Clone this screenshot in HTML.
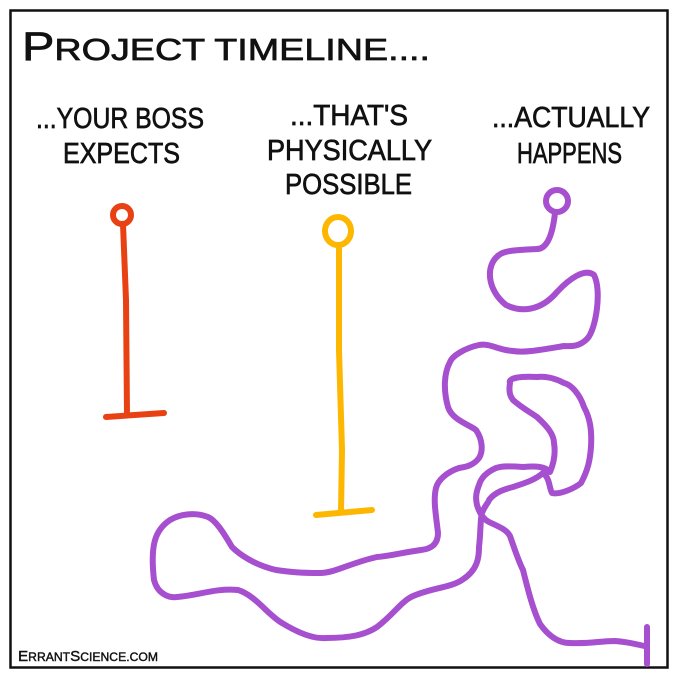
<!DOCTYPE html>
<html><head><meta charset="utf-8"><style>
html,body{margin:0;padding:0;background:#fff}
svg{display:block}
text{font-family:"Liberation Sans Narrow","Liberation Sans",sans-serif;fill:#111;stroke:#111;stroke-width:0.7}
</style></head><body>
<svg width="680" height="680" viewBox="0 0 680 680">
<rect x="10.5" y="10.5" width="657" height="657" fill="#fff" stroke="#111" stroke-width="2.5"/>
<text x="22" y="60" font-size="40" textLength="408" lengthAdjust="spacingAndGlyphs">P<tspan font-size="31">ROJECT  TIMELINE....</tspan></text>
<g font-size="29">
<text x="36" y="128" textLength="168" lengthAdjust="spacingAndGlyphs">...YOUR  BOSS</text>
<text x="63" y="163" textLength="117" lengthAdjust="spacingAndGlyphs">EXPECTS</text>
<text x="290" y="125" textLength="118" lengthAdjust="spacingAndGlyphs">...THAT'S</text>
<text x="267" y="160" textLength="165" lengthAdjust="spacingAndGlyphs">PHYSICALLY</text>
<text x="285" y="194" textLength="127" lengthAdjust="spacingAndGlyphs">POSSIBLE</text>
<text x="492" y="127" textLength="158" lengthAdjust="spacingAndGlyphs">...ACTUALLY</text>
<text x="517" y="163" textLength="105" lengthAdjust="spacingAndGlyphs">HAPPENS</text>
</g>
<text x="18" y="661" font-size="15" style="stroke-width:0.4" textLength="140" lengthAdjust="spacingAndGlyphs">E<tspan font-size="12">RRANT</tspan>S<tspan font-size="12">CIENCE.COM</tspan></text>
<g fill="none" stroke-linecap="round" stroke-linejoin="round">
<g stroke="#e84214" stroke-width="6">
<circle cx="122" cy="215" r="9"/>
<path d="M123 224 L126 300 L127 415"/>
<path d="M106 417 L164 413"/>
</g>
<g stroke="#fdb700" stroke-width="6">
<ellipse cx="338" cy="231" rx="13" ry="14"/>
<path d="M339 245 L339 350 L342 450 L341 512"/>
<path d="M316 515 L372 510"/>
</g>
<g stroke="#a64fcf" stroke-width="6">
<circle cx="557" cy="201" r="11"/>
<path d="M555 213 C552 240 545 249 537 249 C520 250 505 250 499 255 C485 265 487 290 506 305 C520 312 540 312 557 292 C570 278 585 268 594 275 C602 290 596 330 587 339 C578 348 568 346 564 346 C540 350 525 353 513 351 C498 350 490 343 479 345 C465 348 452 356 450 362 C443 375 444 393 448 407 C452 420 470 425 476 430 C483 440 483 452 479 458 C473 466 465 467 459 468 C447 472 438 480 436 488 C433 500 436 515 438 533 C438 545 430 549 421 550 C400 553 390 556 377 557 C350 563 335 573 320 573 C300 573 290 572 276 570 C255 565 240 555 232 547 C222 530 215 520 208 517 C195 512 180 514 170 520 C155 530 150 545 154 580 C158 595 170 598 177 597 C200 595 215 588 238 590 C255 595 268 615 282 623 C300 634 315 639 326 638 C350 638 365 635 377 627 C393 615 400 603 411 597 C430 588 450 588 462 580 C478 570 479 557 479 547 C481 530 480 520 482 513 C485 505 489 502 489 500 C495 492 505 489 513 487 C525 483 535 480 543 473 C550 478 549 488 552 493 C560 495 575 488 581 483 C588 470 590 460 591 447 C592 430 590 418 584 407 C580 395 572 385 564 383 C555 378 545 376 537 377 C520 376 508 378 510 383 C508 395 512 398 513 400 C522 408 530 412 537 417 C548 427 554 435 554 443 C556 455 553 465 550 472 C545 466 535 466 523 467 C510 466 502 466 496 468 C487 472 481 478 479 485 C475 495 476 500 477 505 C480 515 485 520 489 522 C500 527 507 530 510 536 C515 550 518 560 523 570 C528 590 533 610 540 624 C550 638 560 643 570 643 C590 644 600 641 615 641 C630 642 638 645 645 646"/>
<path d="M647 627 L647 664"/>
</g>
</g>
</svg>
</body></html>
